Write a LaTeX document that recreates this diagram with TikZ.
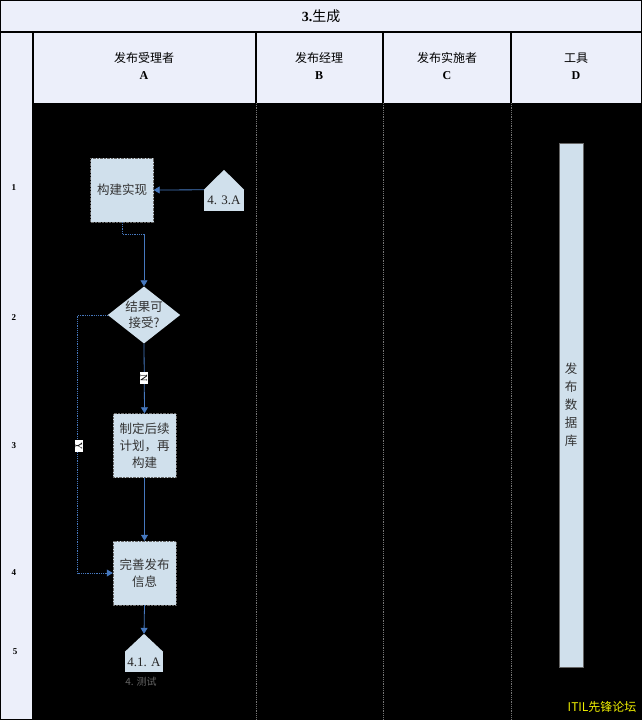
\documentclass[tikz,border=0pt]{standalone}
\usepackage{fontspec}
\newfontfamily\cjk{Noto Sans CJK SC}
\newfontfamily\tms{Liberation Serif}
\usetikzlibrary{arrows.meta,calc,shapes.geometric}
\definecolor{hdrbg}{RGB}{236,239,250}
\definecolor{boxblue}{RGB}{208,224,236}
\definecolor{flowblue}{RGB}{70,120,190}
\definecolor{wmark}{RGB}{240,240,0}
\begin{document}
\begin{tikzpicture}[x=1pt,y=-1pt,
  hdrtext/.style={align=center, font=\tms\fontsize{12}{17}\selectfont, text=black},
  rownum/.style={font=\tms\bfseries\fontsize{9}{10}\selectfont, text=black},
  procbox/.style={draw=black!60, densely dotted, fill=boxblue, minimum width=63pt, minimum height=64pt, inner sep=1pt, align=center, font=\cjk\fontsize{12.5}{17}\selectfont, text=black!80},
  decide/.style={diamond, fill=boxblue, minimum width=71pt, minimum height=56pt, inner sep=0pt, aspect=1.27, align=center, font=\cjk\fontsize{12.5}{16}\selectfont, text=black!80},
  offpage/.style={fill=boxblue, inner sep=0pt, font=\tms\fontsize{13}{14}\selectfont, text=black!85},
  flow/.style={draw=flowblue, line width=0.8pt, -{Triangle[width=7pt,length=6pt]}},
  flowline/.style={draw=flowblue, line width=0.8pt},
  lbl/.style={fill=white, inner xsep=2.5pt, inner ysep=0.3pt, font=\tms\fontsize{10}{10}\selectfont, rotate=-90, text=black},
  divider/.style={draw=black!55, densely dotted, line width=0.8pt}
]
\useasboundingbox (0,0) rectangle (642,720);
% backgrounds
\fill[hdrbg] (0,0) rectangle (642,103);
\fill[hdrbg] (0,103) rectangle (33,720);
\fill[black] (33,103) rectangle (642,720);
% frame and header lines
\draw[line width=1.5pt] (0,0) rectangle (642,720);
\draw[line width=2pt] (0,32) -- (642,32);
\draw[line width=1.5pt] (33,32) -- (33,720);
\draw[line width=1.2pt] (256,32) -- (256,103);
\draw[line width=1.2pt] (383,32) -- (383,103);
\draw[line width=1.2pt] (511,32) -- (511,103);
% body dividers
\draw[divider] (256,103) -- (256,720);
\draw[divider] (383,103) -- (383,720);
\draw[divider] (511,103) -- (511,720);
% title and headings
\node[hdrtext, font=\tms\fontsize{14}{16}\selectfont] (title) at (321,16) {{\bfseries 3.}{\cjk 生成}};
\node[hdrtext] (hA) at (144,66) {{\cjk 发布受理者}\\{\bfseries A}};
\node[hdrtext] (hB) at (319,66) {{\cjk 发布经理}\\{\bfseries B}};
\node[hdrtext] (hC) at (447,66) {{\cjk 发布实施者}\\{\bfseries C}};
\node[hdrtext] (hD) at (576,66) {{\cjk 工具}\\{\bfseries D}};
% row numbers
\node[rownum] (r1) at (14,188) {1};
\node[rownum] (r2) at (14,318) {2};
\node[rownum] (r3) at (14,446) {3};
\node[rownum] (r4) at (14,573) {4};
\node[rownum] (r5) at (15,652) {5};
% process nodes
\node[procbox] (b1) at (122,190) {构建实现};
\node[decide] (d1) at (144,315) {结果可\\接受?};
\node[procbox] (b3) at (144.5,445.5) {制定后续\\计划，再\\构建};
\node[procbox] (b4) at (144.5,573) {完善发布\\信息};
% off-page connectors
\node[offpage, minimum width=40pt, minimum height=21pt] (p1) at (224,200.5) {4. 3.A};
\fill[boxblue] (p1.north west) -- ($(p1.north)+(0,-20)$) -- (p1.north east) -- cycle;
\coordinate (p1top) at ($(p1.north)+(0,-20)$);
\node[offpage, minimum width=38pt, minimum height=20pt] (p2) at (144,662) {4.1. A};
\fill[boxblue] (p2.north west) -- ($(p2.north)+(0,-18)$) -- (p2.north east) -- cycle;
\coordinate (p2top) at ($(p2.north)+(0,-18)$);
\node[font=\cjk\fontsize{10}{11}\selectfont, text=black!60] (p2cap) at (141,682) {4. 测试};
% tool column
\node[draw=black!60, fill=boxblue, minimum width=24pt, minimum height=524pt, inner sep=0pt, align=center, font=\cjk\fontsize{12.5}{18}\selectfont, text=black!80] (db) at (571,405) {发\\布\\数\\据\\库};
% connectors
\draw[flow] (p1.north west) -- (b1.east);
\coordinate (k1) at (144,234);
\draw[flowline, densely dotted] (b1.south) -- (b1.south |- k1) -- (k1);
\draw[flow] (k1) -- (d1.north);
\draw[flow] (d1.south) -- (b3.north);
\node[lbl] (lN) at (144,378) {N};
\draw[flow, densely dotted] (d1.west) -- ++(-30,0) |- (b4.west);
\node[lbl] (lY) at (79,446) {Y};
\draw[flow] (b3.south) -- (b4.north);
\draw[flow] (b4.south) -- (p2top);
% watermark
\node[font=\cjk\fontsize{12}{14}\selectfont, text=wmark, anchor=east] (wm) at (640,707) {ITIL先锋论坛};
\end{tikzpicture}
\end{document}
